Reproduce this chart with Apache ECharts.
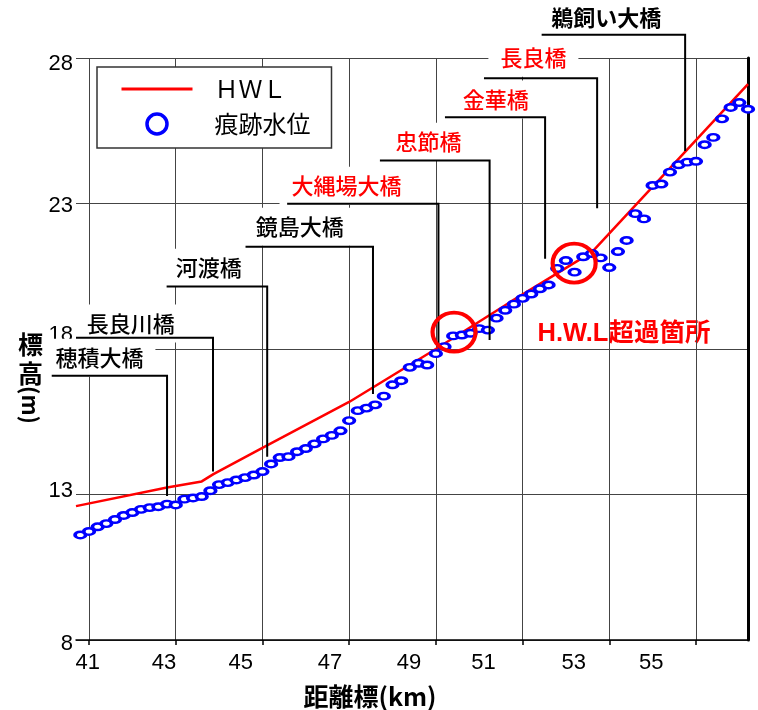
<!DOCTYPE html>
<html><head><meta charset="utf-8">
<script src="https://cdn.jsdelivr.net/npm/echarts/dist/echarts.min.js"></script>
<style>html,body{margin:0;padding:0;background:#fff}#c{width:758px;height:710px}</style>
</head><body><div id="c"></div>
<script>
// ---- data ----
const traceKm = [40.8,41.0,41.2,41.4,41.6,41.8,42.0,42.2,42.4,42.6,42.8,43.0,43.2,43.4,43.6,43.8,44.0,44.2,44.4,44.6,44.8,45.0,45.2,45.4,45.6,45.8,46.0,46.2,46.4,46.6,46.8,47.0,47.2,47.4,47.6,47.8,48.0,48.2,48.4,48.6,48.8,49.0,49.2,49.4,49.6,49.8,50.0,50.2,50.4,50.6,50.8,51.0,51.2,51.4,51.6,51.8,52.0,52.2,52.4,52.6,52.8,53.0,53.2,53.4,53.6,53.8,54.0,54.2,54.4,54.6,54.8,55.0,55.2,55.4,55.6,55.8,56.0,56.2];
const traceLevel = [11.61,11.73,11.89,12.00,12.14,12.28,12.38,12.49,12.55,12.58,12.67,12.64,12.84,12.88,12.93,13.13,13.34,13.41,13.50,13.58,13.67,13.79,14.05,14.27,14.30,14.47,14.58,14.74,14.91,15.03,15.19,15.54,15.88,15.97,16.08,16.38,16.77,16.91,17.37,17.51,17.45,17.84,18.08,18.45,18.48,18.54,18.70,18.65,19.06,19.33,19.54,19.74,19.89,20.07,20.20,20.77,21.04,20.64,21.17,21.28,21.13,20.80,21.35,21.73,22.65,22.47,23.62,23.67,24.08,24.33,24.42,24.45,25.02,25.27,25.91,26.30,26.47,26.24];
const hwlKm = [40.7,42.8,43.6,43.87,45.0,47.0,49.0,50.7,52.6,56.2];
const hwlLevel = [12.6,13.24,13.45,13.7,14.6,16.18,18.0,19.6,21.33,27.1];
const bridgeNames = ['穂積大橋','長良川橋','河渡橋','鏡島大橋','大縄場大橋','忠節橋','金華橋','長良橋','鵜飼い大橋'];
const bridgeKm = [42.8,43.86,45.11,47.55,49.06,50.24,51.52,52.72,54.75];
const exceedKm = [49.42,52.19];
const exceedLevel = [18.58,20.95];
const xTickValues = [41,43,45,47,49,51,53,55];
const xTickLabels = ['41','43','45','47','49','51','53','55'];
const xLabelPos = [40.97,42.73,44.5,46.56,48.38,50.1,52.18,53.97];
const yTickValues = [8,13,18,23,28];
const yTickLabels = ['8','13','18','23','28'];
const yLabelPos = [8,13.11,18.49,22.92,27.79];

// ---- annotation layout (positions / styles) ----
const bridgeLayout = [
  {barStart:40.14, barLevel:17.08, endLevel:12.95, labelKm:41.24, labelLevel:17.70, color:'#000', bold:false},
  {barStart:40.70, barLevel:18.39, endLevel:13.79, labelKm:41.96, labelLevel:18.88, color:'#000', bold:false},
  {barStart:42.79, barLevel:20.15, endLevel:14.30, labelKm:43.76, labelLevel:20.79, color:'#000', bold:false},
  {barStart:44.61, barLevel:21.51, endLevel:16.45, labelKm:45.86, labelLevel:22.20, color:'#000', bold:false},
  {barStart:45.57, barLevel:22.99, endLevel:18.15, labelKm:46.94, labelLevel:23.61, color:'#ff0000', bold:false},
  {barStart:47.71, barLevel:24.48, endLevel:18.31, labelKm:48.83, labelLevel:25.12, color:'#ff0000', bold:false},
  {barStart:49.21, barLevel:25.96, endLevel:21.10, labelKm:50.38, labelLevel:26.57, color:'#ff0000', bold:false},
  {barStart:50.11, barLevel:27.30, endLevel:22.84, labelKm:51.25, labelLevel:28.01, color:'#ff0000', bold:false},
  {barStart:51.44, barLevel:28.80, endLevel:24.80, labelKm:52.93, labelLevel:29.39, color:'#000', bold:true}
];

const JP = '"Noto Sans CJK JP", sans-serif';
const NUM = '"Liberation Sans", Arial, sans-serif';

const chart = echarts.init(document.getElementById('c'), null, {renderer:'canvas'});

function lookup(pos, labels){
  return v => { const i = pos.findIndex(p => Math.abs(p - v) < 1e-6); return i >= 0 ? labels[i] : ''; };
}
const xFmt = lookup(xLabelPos, xTickLabels);
const yFmtBase = lookup(yLabelPos, yTickLabels);

const option = {
  animation:false,
  backgroundColor:'#fff',
  grid:{left:76, right:10, top:58, bottom:70, containLabel:false, outerBoundsMode:'none'},
  xAxis:{
    type:'value', min:40.7, max:56.2,
    axisLine:{show:true, onZero:false, lineStyle:{color:'#000', width:1.5}},
    axisTick:{show:true, customValues:xTickValues, length:5, lineStyle:{color:'#000', width:1.5}},
    splitLine:{show:true, lineStyle:{color:'#444', width:1}},
    axisLabel:{customValues:xLabelPos, formatter:xFmt, margin:12, fontSize:22, fontFamily:NUM, color:'#000'}
  },
  yAxis:[{
    type:'value', min:8, max:28,
    axisLine:{show:false},
    axisTick:{show:false, customValues:yTickValues},
    splitLine:{show:true, lineStyle:{color:'#444', width:1}},
    axisLabel:{customValues:yLabelPos, margin:3, color:'#000',
      formatter: v => { const t = yFmtBase(v); return t === '8' ? '{low|8}' : '{n|' + t + '}'; },
      rich:{n:{fontSize:22, fontFamily:NUM, color:'#000'}, low:{fontSize:22, fontFamily:NUM, color:'#000', padding:[8,0,0,0]}}
    }
  },{
    type:'value', min:8, max:28, position:'right',
    axisLine:{show:true, lineStyle:{color:'#000', width:3}},
    axisTick:{show:false}, axisLabel:{show:false}, splitLine:{show:false}
  }],
  legend:{
    orient:'vertical', left:97, top:67, padding:[10,21,12,23],
    itemWidth:71, itemHeight:20, itemGap:11,
    borderColor:'#333', borderWidth:1.5, backgroundColor:'#fff',
    textStyle:{fontSize:24, fontFamily:JP, color:'#000', padding:[0,0,0,17], lineHeight:22},
    data:[
      {name:'ＨＷＬ', itemStyle:{color:'rgba(0,0,0,0)', borderWidth:0, opacity:0}, lineStyle:{color:'#ff0000', width:3, opacity:1}},
      {name:'痕跡水位', icon:'circle', itemStyle:{color:'#fff', borderColor:'#0000ff', borderWidth:3.5, opacity:1}}
    ]
  },
  series:[
    {
      type:'scatter', name:'labels', silent:true, clip:false, symbolSize:0, z:2,
      itemStyle:{opacity:1},
      data: bridgeNames.map((n, i) => ({
        name:n, value:[bridgeLayout[i].labelKm, bridgeLayout[i].labelLevel],
        label:{color:bridgeLayout[i].color, fontWeight: bridgeLayout[i].bold ? 'bold' : 500}
      })),
      label:{show:true, position:'inside', formatter:p => p.name, fontSize:22, fontFamily:JP,
        backgroundColor:'#fff', padding:[6,12,10,12], opacity:1}
    },
    {
      type:'line', name:'ＨＷＬ', z:3, symbol:'none', showSymbol:false,
      lineStyle:{color:'#ff0000', width:2.5, opacity:1}, itemStyle:{color:'#ff0000'},
      data: hwlKm.map((k, i) => [k, hwlLevel[i]])
    },
    {
      type:'scatter', name:'痕跡水位', z:4, symbol:'circle', symbolSize:[10.5,6.5],
      itemStyle:{color:'#fff', borderColor:'#0000ff', borderWidth:3, opacity:1},
      data: traceKm.map((k, i) => [k, traceLevel[i]])
    },
    {
      type:'custom', name:'leaders', coordinateSystem:'cartesian2d', clip:false, silent:true, z:5,
      data: bridgeKm.map((k, i) => [k, bridgeLayout[i].endLevel]),
      renderItem: (params, api) => {
        const i = params.dataIndex, b = bridgeLayout[i];
        const pts = [api.coord([b.barStart, b.barLevel]), api.coord([bridgeKm[i], b.barLevel]), api.coord([bridgeKm[i], b.endLevel])];
        return {type:'polyline', shape:{points:pts}, style:{stroke:'#000', lineWidth:2, fill:null}};
      }
    },
    {
      type:'scatter', name:'exceed', z:6, silent:true, symbol:'circle', symbolSize:[43,39],
      itemStyle:{color:'rgba(0,0,0,0)', borderColor:'#ff0000', borderWidth:4, opacity:1},
      data: exceedKm.map((k, i) => [k, exceedLevel[i]])
    }
  ],
  graphic:[
    {type:'text', left:18, top:330, style:{text:'標\n高', font:'bold 25px ' + JP, fill:'#000', lineHeight:29}},
    {type:'text', x:30, y:405, rotation:-Math.PI/2, style:{text:'(m)', font:'bold 22px ' + JP, fill:'#000', align:'center', verticalAlign:'middle'}},
    {type:'text', x:370, y:696, style:{text:'距離標(km)', font:'bold 25px ' + JP, fill:'#000', align:'center', verticalAlign:'middle'}},
    {type:'text', x:624, y:334, style:{text:'H.W.L超過箇所', font:'bold 25.5px "Liberation Sans", "Noto Sans CJK JP", sans-serif', fill:'#ff0000', align:'center', verticalAlign:'middle'}}
  ]
};
chart.setOption(option);
</script>
</body></html>
